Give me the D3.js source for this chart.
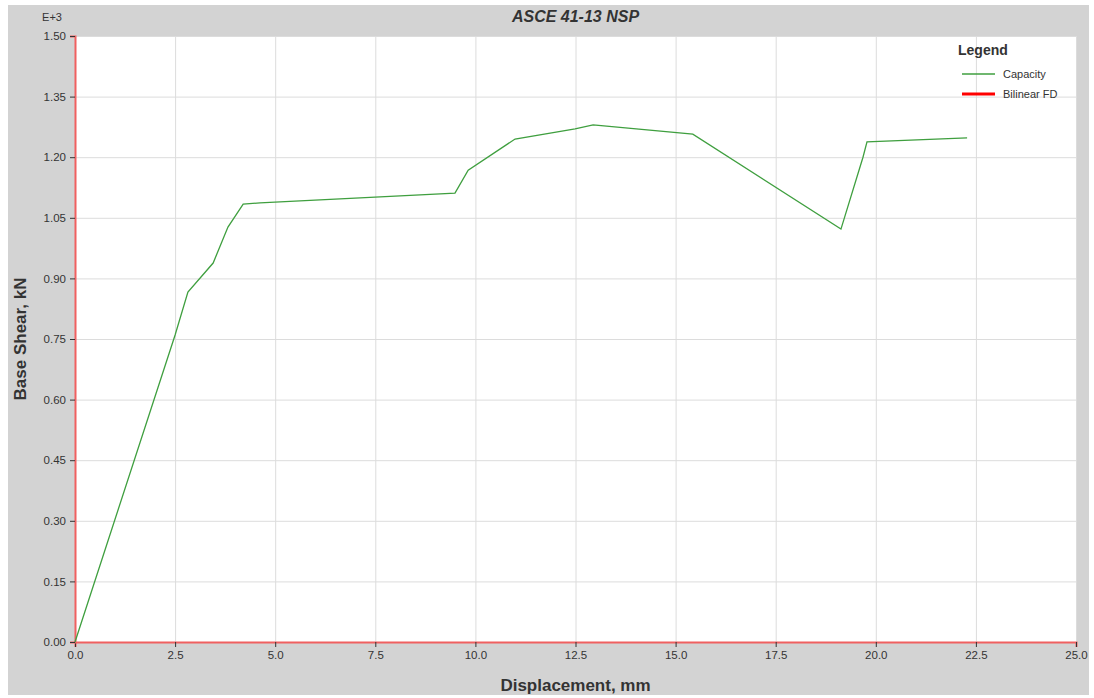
<!DOCTYPE html>
<html lang="en">
<head>
    <meta charset="UTF-8">
    <title>ASCE 41-13 NSP</title>
    <script src="https://d3js.org/d3.v7.min.js"></script>
    <style>
        body { margin: 0; background: #fff; }
        svg { font-family: "Liberation Sans", Arial, sans-serif; }
        .tick text { font-size: 11.5px; fill: #333; }
        .grid line { stroke: #dcdcdc; stroke-width: 1; }
        .grid path { display: none; }
    </style>
</head>
<body>
    <svg width="1094" height="698"></svg>

    <script>
        // Capacity curve: displacement (mm) and base shear (kN)
        const displacement = [0, 2.50, 2.82, 3.45, 3.82, 4.20, 4.62, 9.49, 9.82, 10.99, 12.49, 12.94, 15.43, 19.13, 19.68, 19.78, 22.28];
        const baseShear = [0, 760, 866, 938, 1027, 1084, 1087, 1111, 1168, 1245, 1270, 1280, 1257, 1022, 1200, 1238, 1248];
        const xTicks = [0, 2.5, 5, 7.5, 10, 12.5, 15, 17.5, 20, 22.5, 25];
        const yTicks = [0, 150, 300, 450, 600, 750, 900, 1050, 1200, 1350, 1500];
        const legendNames = ["Capacity", "Bilinear FD"];
        const legendColors = ["#3f9f3f", "#ff0000"];

        const data = displacement.map((d, i) => ({x: d, y: baseShear[i]}));

        const svg = d3.select("svg"),
            margin = {top: 36, right: 18, bottom: 56, left: 75},
            width = +svg.attr("width") - margin.left - margin.right,
            height = +svg.attr("height") - margin.top - margin.bottom;

        // grey frame
        svg.append("rect")
            .attr("x", 8).attr("y", 5)
            .attr("width", 1081).attr("height", 690)
            .attr("fill", "#d3d3d3");

        const g = svg.append("g")
            .attr("transform", `translate(${margin.left},${margin.top})`);

        g.append("rect")
            .attr("width", width).attr("height", height)
            .attr("fill", "#fff");

        const x = d3.scaleLinear().domain([0, 25]).range([0, width]);
        const y = d3.scaleLinear().domain([0, 1500]).range([height, 0]);

        // gridlines
        g.append("g").attr("class", "grid")
            .call(d3.axisBottom(x).tickValues(xTicks).tickSize(height).tickFormat(""));
        g.append("g").attr("class", "grid")
            .call(d3.axisLeft(y).tickValues(yTicks).tickSize(-width).tickFormat(""));

        // axes
        const xAxis = g.append("g")
            .attr("transform", `translate(0,${height})`)
            .call(d3.axisBottom(x).tickValues(xTicks).tickSize(5).tickPadding(4).tickFormat(d3.format(".1f")));
        const yAxis = g.append("g")
            .call(d3.axisLeft(y).tickValues(yTicks).tickSize(5).tickPadding(4).tickFormat(d => (d / 1000).toFixed(2)));
        [xAxis, yAxis].forEach(a => {
            a.select(".domain").attr("stroke", "#f06060").attr("stroke-width", 2);
            a.selectAll(".tick line").attr("stroke", "#333");
        });

        // capacity curve
        const line = d3.line().x(d => x(d.x)).y(d => y(d.y));
        g.append("path")
            .datum(data)
            .attr("fill", "none")
            .attr("stroke", legendColors[0])
            .attr("stroke-width", 1.3)
            .attr("d", line);

        // title and labels
        svg.append("text")
            .attr("x", margin.left + width / 2)
            .attr("y", 22)
            .attr("text-anchor", "middle")
            .attr("font-size", 16)
            .attr("font-weight", "bold")
            .attr("font-style", "italic")
            .attr("fill", "#333")
            .text("ASCE 41-13 NSP");

        svg.append("text")
            .attr("x", 62).attr("y", 21)
            .attr("text-anchor", "end")
            .attr("font-size", 11)
            .attr("fill", "#333")
            .text("E+3");

        svg.append("text")
            .attr("x", margin.left + width / 2)
            .attr("y", 691)
            .attr("text-anchor", "middle")
            .attr("font-size", 17)
            .attr("font-weight", "bold")
            .attr("fill", "#333")
            .text("Displacement, mm");

        svg.append("text")
            .attr("transform", `translate(26,${margin.top + height / 2}) rotate(-90)`)
            .attr("text-anchor", "middle")
            .attr("font-size", 17)
            .attr("font-weight", "bold")
            .attr("fill", "#333")
            .text("Base Shear, kN");

        // legend
        const legend = svg.append("g").attr("transform", "translate(958,55)");
        legend.append("text")
            .attr("x", 0).attr("y", 0)
            .attr("font-size", 14)
            .attr("font-weight", "bold")
            .attr("fill", "#333")
            .text("Legend");
        legendNames.forEach((name, i) => {
            const ly = 19 + i * 20;
            legend.append("line")
                .attr("x1", 4).attr("x2", 37)
                .attr("y1", ly).attr("y2", ly)
                .attr("stroke", legendColors[i])
                .attr("stroke-width", i === 0 ? 1.3 : 3);
            legend.append("text")
                .attr("x", 45).attr("y", ly + 4)
                .attr("font-size", 11)
                .attr("fill", "#333")
                .text(name);
        });
    </script>
</body>
</html>
